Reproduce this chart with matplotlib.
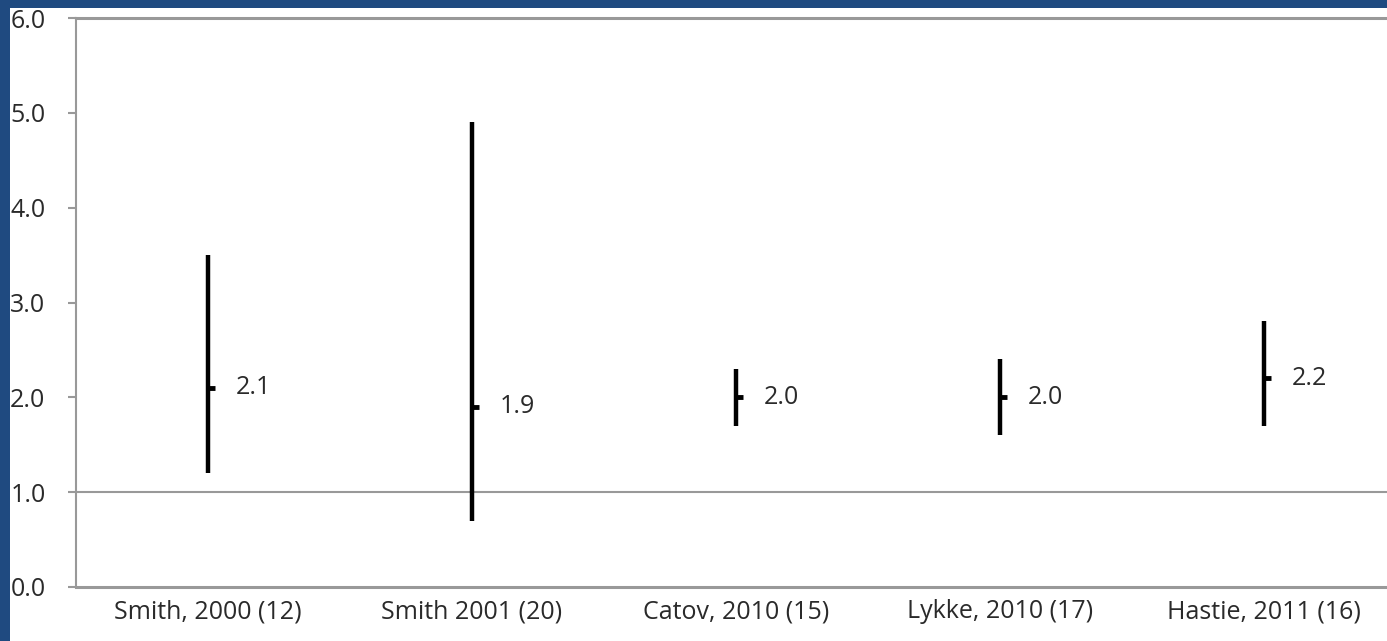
import matplotlib.pyplot as plt
from matplotlib.patches import Rectangle

# study labels and estimates
studies = ['Smith, 2000 (12)', 'Smith 2001 (20)', 'Catov, 2010 (15)',
           'Lykke, 2010 (17)', 'Hastie, 2011 (16)']
estimate = [2.1, 1.9, 2.0, 2.0, 2.2]
lower = [1.2, 0.7, 1.7, 1.6, 1.7]
upper = [3.5, 4.9, 2.3, 2.4, 2.8]
yticks = [0.0, 1.0, 2.0, 3.0, 4.0, 5.0, 6.0]

plt.rcParams['font.family'] = ['Open Sans', 'DejaVu Sans']

fig = plt.figure(figsize=(13.87, 6.41), dpi=100, facecolor='#1f4a80')
# white page inside the blue border
fig.patches.append(Rectangle((10 / 1387, 0), 1, 1 - 8 / 641,
                             transform=fig.transFigure, facecolor='white',
                             edgecolor='none', zorder=-5))

ax = fig.add_axes([76 / 1387, 1 - 587 / 641, 1320 / 1387, (587 - 18) / 641])
ax.set_zorder(2)
ax.set_facecolor('white')

x = [i + 0.5 for i in range(len(studies))]

# confidence interval lines
ax.vlines(x, lower, upper, color='black', linewidth=3.2, zorder=3)
# point estimate marker (small tick to the right)
ax.plot(x, estimate, linestyle='none', marker=1, markersize=5,
        markeredgewidth=3.5, color='black', zorder=4)

for xi, e in zip(x, estimate):
    ax.annotate('%.1f' % e, (xi, e), xytext=(20, 0), textcoords='offset points',
                va='center', ha='left', fontsize=18, color='#2a2a2a')

# reference line at 1.0
ax.axhline(1.0, color='#999999', linewidth=1.5, zorder=2)

ax.set_xlim(0, len(studies))
ax.set_ylim(0, 6)
ax.set_xticks(x)
ax.set_xticklabels(studies)
ax.set_yticks(yticks)
ax.set_yticklabels(['%.1f' % t for t in yticks])

ax.tick_params(axis='x', length=0, labelsize=18, labelcolor='#2a2a2a', pad=9)
ax.tick_params(axis='y', length=6, width=1.5, color='#999999', labelsize=18,
               labelcolor='#2a2a2a', pad=16)

for side in ['left', 'bottom', 'top', 'right']:
    ax.spines[side].set_color('#999999')
ax.spines['left'].set_linewidth(1.5)
ax.spines['bottom'].set_linewidth(2.2)
ax.spines['top'].set_linewidth(2.2)
ax.spines['right'].set_visible(False)

fig.savefig('out.png', dpi=100, facecolor=fig.get_facecolor())
